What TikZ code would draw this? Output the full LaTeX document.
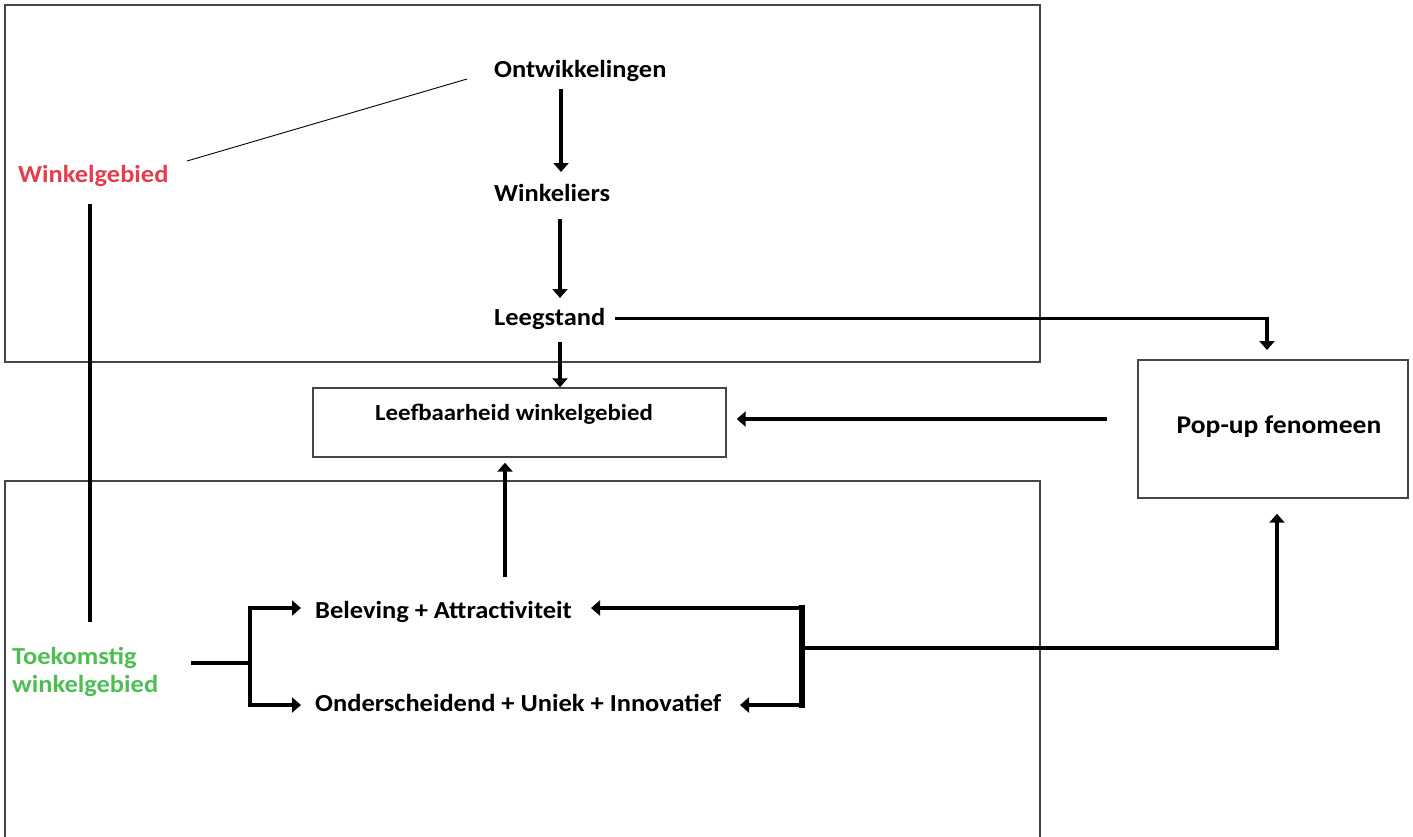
\documentclass[tikz,border=0pt]{standalone}
\usepackage{fontspec}
\setmainfont{Carlito}[FakeStretch=1.08]
\usetikzlibrary{arrows.meta}
\definecolor{oldarea}{RGB}{228,62,78}
\definecolor{newarea}{RGB}{78,190,82}
\definecolor{framegray}{RGB}{70,70,70}

\begin{document}
\begin{tikzpicture}[x=1pt,y=-1pt,
  lbl/.style={font=\bfseries\fontsize{24.5}{28}\selectfont, inner sep=0pt, anchor=base west},
  frame/.style={draw=framegray, line width=1.4pt},
  flow/.style={line width=3.6pt, line join=miter, -{Triangle[length=9pt,width=15pt]}},
  link/.style={line width=3.6pt, line join=miter},
  thin link/.style={line width=0.9pt},
]
\useasboundingbox (0,0) rectangle (1413,836);
\fill[white] (0,0) rectangle (1413,836);

% Two large frames
\draw[frame] (5,5) rectangle (1040,362);
\draw[frame] (5,846) -- (5,481) -- (1040,481) -- (1040,846);

% Labels of the upper frame
\node[lbl] (ontw) at (494,77) {Ontwikkelingen};
\node[lbl] (wink) at (494,201) {Winkeliers};
\node[lbl] (leeg) at (494,325) {Leegstand};
\node[lbl, text=oldarea] (wg) at (18,182) {Winkelgebied};

% Central and right boxes
\node[frame, minimum width=413pt, minimum height=69pt, inner sep=0pt] (leef) at (519.5,422.5) {};
\node[lbl, font=\bfseries\fontsize{23}{27}\selectfont] (leeftxt) at (375,420) {Leefbaarheid winkelgebied};
\node[frame, minimum width=270pt, minimum height=138pt, inner sep=0pt] (pop) at (1273,429) {};
\node[lbl, anchor=base, font=\bfseries\fontsize{25.5}{29}\selectfont] (poptxt) at (1279,433) {Pop-up fenomeen};

% Labels of the lower frame
\node[lbl, text=newarea, align=left, anchor=north west] (toek) at (12,647) {Toekomstig\\winkelgebied};
\node[lbl] (bel) at (315,618) {Beleving + Attractiviteit};
\node[lbl] (ond) at (315,711) {Onderscheidend + Uniek + Innovatief};

% Junction points
\coordinate (fork) at (250,663);
\coordinate (bar) at (802,648);
\coordinate (popin) at (1277,648);

% Chain in the upper frame
\draw[flow] (561,89) -- (561,172);
\draw[flow] (560,219) -- (560,298);
\draw[flow] (560,342) -- (leef.north -| 560,0);
\draw[flow] (leeg.east) ++(10pt,0) coordinate (lgout) -- (lgout -| 1267,0) -- (1267,350);
\draw[thin link] (187,161) -- (467,79);
\draw[link] (90,204) -- (90,622);

% Pop-up back to liveability
\draw[flow] (1107,419) -- ([xshift=10pt]leef.east |- 0,419);

% Lower frame connections
\draw[flow] (505,577) -- ([yshift=-5pt]leef.south -| 505,0);
\draw[link] (191,663) -- (fork);
\draw[flow] (fork) |- (301,608);
\draw[flow] (fork) |- (301,705);
\draw[flow] (bar |- 0,608) -- (591,608);
\draw[flow] (bar |- 0,705) -- (740,705);
\draw[line width=6pt] (802,605) -- (802,708);
\draw[flow] (bar) -- (popin) -- ([yshift=-15pt]pop.south -| popin);
\end{tikzpicture}
\end{document}
